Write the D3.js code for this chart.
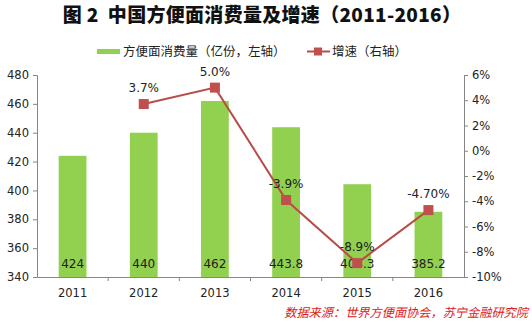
<!DOCTYPE html>
<html><head><meta charset="utf-8">
<script src="https://cdn.jsdelivr.net/npm/d3@7"></script>
<style>body{margin:0;background:#fff;}svg{display:block;font-family:"Liberation Sans","DejaVu Sans",sans-serif;}</style>
</head><body>
<svg id="c" width="532" height="322"></svg>
<script>
const years = ["2011","2012","2013","2014","2015","2016"];
const consumption = [424, 440, 462, 443.8, 404.3, 385.2];
const consumptionLabels = ["424","440","462","443.8","404.3","385.2"];
const growth = [null, 3.7, 5.0, -3.9, -8.9, -4.7];
const growthLabels = ["", "3.7%", "5.0%", "-3.9%", "-8.9%", "-4.70%"];
const leftTicks = [340,360,380,400,420,440,460,480];
const rightTicks = [-10,-8,-6,-4,-2,0,2,4,6];

const svg = d3.select("#c");
const L = 37, R = 464, T = 75, B = 277;
const cjk = '"Noto Sans CJK SC","Noto Sans",sans-serif';

const x = d3.scaleBand().domain(years).range([L, R]).paddingInner(0.61).paddingOuter(0.305);
const xb = d3.scaleBand().domain(years).range([L, R]);
const yL = d3.scaleLinear().domain([340, 480]).range([B, T]);
const yR = d3.scaleLinear().domain([-10, 6]).range([B, T]);

// title
svg.append("text").attr("x", 262).attr("y", 22).attr("text-anchor","middle")
  .style("font-family", cjk).style("font-weight","900").style("font-size","19px").attr("fill","#111")
  .style("letter-spacing","0.3px")
  .text("图\u00a02\u00a0\u00a0中国方便面消费量及增速（2011-2016）");

// legend
svg.append("rect").attr("x",97).attr("y",49).attr("width",23).attr("height",5).attr("fill","#92d050");
svg.append("text").attr("x",123).attr("y",56).style("font-family",cjk).style("font-size","12.5px").attr("fill","#222")
  .text("方便面消费量（亿份，左轴）");
svg.append("line").attr("x1",307).attr("x2",330).attr("y1",51.5).attr("y2",51.5).attr("stroke","#b84c48").attr("stroke-width",2);
svg.append("rect").attr("x",314).attr("y",47.5).attr("width",8).attr("height",8).attr("fill","#c0504d");
svg.append("text").attr("x",332).attr("y",56).style("font-family",cjk).style("font-size","12.5px").attr("fill","#222")
  .text("增速（右轴）");

// bars
svg.selectAll("rect.bar").data(years).enter().append("rect").attr("class","bar")
  .attr("x", d => x(d)).attr("width", x.bandwidth())
  .attr("y", (d,i) => yL(consumption[i])).attr("height", (d,i) => B - yL(consumption[i]))
  .attr("fill","#92d050");

// axes
const axL = d3.axisLeft(yL).tickValues(leftTicks).tickSize(4).tickFormat(d3.format("d"));
const gL = svg.append("g").attr("transform",`translate(${L},0)`).call(axL);
const axR = d3.axisRight(yR).tickValues(rightTicks).tickSize(4).tickFormat(d => d + "%");
const gR = svg.append("g").attr("transform",`translate(${R},0)`).call(axR);
const axB = d3.axisBottom(xb).tickSize(0).tickSizeOuter(0);
const gB = svg.append("g").attr("transform",`translate(0,${B})`).call(axB);
svg.selectAll("line.ct").data(years.slice(1)).enter().append("line").attr("class","ct")
  .attr("x1", d => xb(d)).attr("x2", d => xb(d)).attr("y1", B).attr("y2", B+4).attr("stroke","#868686");

[gL,gR,gB].forEach(g => {
  g.select(".domain").attr("stroke","#868686");
  g.selectAll(".tick line").attr("stroke","#868686");
  g.selectAll(".tick text").attr("fill","#222").style("font-size","11.5px").style("font-family",'"DejaVu Sans",sans-serif');
});
gL.selectAll(".tick text").attr("x",-8);
gR.selectAll(".tick text").attr("x",8);
gB.selectAll(".tick text").attr("dy","1.5em");

// bar value labels
svg.selectAll("text.bl").data(years).enter().append("text").attr("class","bl")
  .attr("x", d => x(d) + x.bandwidth()/2).attr("y", 268).attr("text-anchor","middle")
  .style("font-size","12px").style("font-family",'"DejaVu Sans",sans-serif').attr("fill","#222")
  .text((d,i) => consumptionLabels[i]);

// line
const pts = years.map((d,i) => ({y:d, v:growth[i], l:growthLabels[i]})).filter(p => p.v !== null);
const line = d3.line().x(p => xb(p.y) + xb.bandwidth()/2).y(p => yR(p.v));
svg.append("path").datum(pts).attr("d", line).attr("fill","none").attr("stroke","#b84c48").attr("stroke-width",2);
svg.selectAll("rect.mk").data(pts).enter().append("rect").attr("class","mk")
  .attr("x", p => xb(p.y) + xb.bandwidth()/2 - 5).attr("y", p => yR(p.v) - 5)
  .attr("width",10).attr("height",10).attr("fill","#c0504d");
svg.selectAll("text.gl").data(pts).enter().append("text").attr("class","gl")
  .attr("x", p => xb(p.y) + xb.bandwidth()/2).attr("y", p => yR(p.v) - 12).attr("text-anchor","middle")
  .style("font-size","12px").style("font-family",'"DejaVu Sans",sans-serif').attr("fill","#222")
  .text(p => p.l);

// source
svg.append("text").attr("x",528).attr("y",317).attr("text-anchor","end")
  .style("font-family",cjk).style("font-size","12.2px").style("font-style","italic").attr("fill","#e02020")
  .text("数据来源：世界方便面协会，苏宁金融研究院");
</script>
</body></html>
